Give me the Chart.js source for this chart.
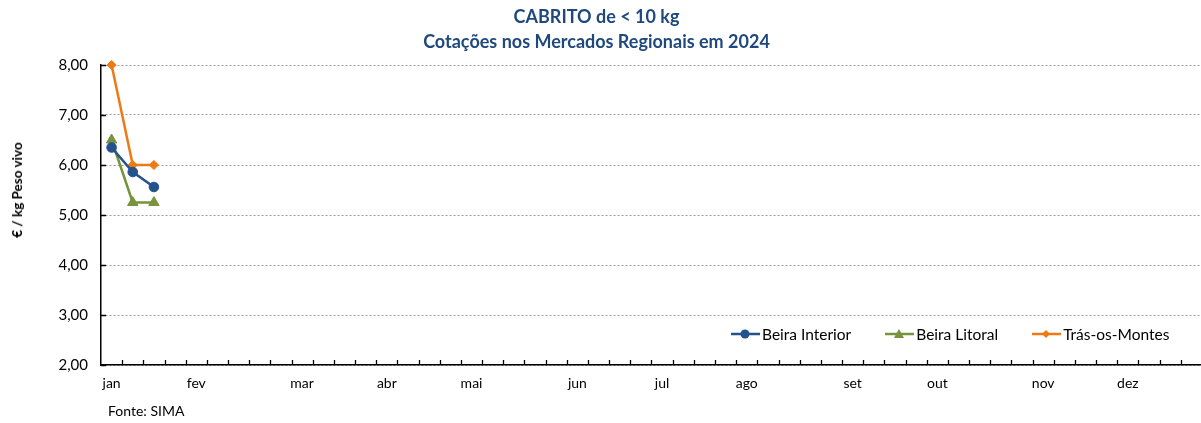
<!DOCTYPE html>
<html lang="pt">
<head>
<meta charset="utf-8">
<title>CABRITO de &lt; 10 kg</title>
<script src="https://cdn.jsdelivr.net/npm/chart.js@4.4.1/dist/chart.umd.min.js"></script>
<style>
  html, body { margin: 0; padding: 0; background: #fff; }
  #wrap { position: relative; width: 1201px; height: 423px; overflow: hidden; font-family: Lato, "Open Sans", sans-serif; }
  #title {
    position: absolute; left: 396px; width: 401px; top: 4px;
    text-align: center; color: #1F497D; font-weight: bold; font-size: 18px; line-height: 25px;
  }
  #yTitle {
    position: absolute; left: 17px; top: 190px;
    transform: translate(-50%, -50%) rotate(-90deg);
    font-size: 13.5px; font-weight: bold; color: #000; white-space: nowrap;
  }
  #legend {
    position: absolute; left: 731px; top: 325px; width: 480px;
    display: flex; font-size: 15.5px; color: #000; white-space: nowrap;
  }
  .item { display: flex; align-items: center; margin-right: 34px; flex-shrink: 0; }
  .item svg { margin-right: 2px; flex-shrink: 0; }
  #fonte { position: absolute; left: 108px; top: 402px; font-size: 14px; color: #000; }
</style>
</head>
<body>
<div id="wrap">
  <canvas id="chart" width="1209" height="423"></canvas>
  <div id="title">CABRITO de &lt; 10 kg<br>Cotações nos Mercados Regionais em 2024</div>
  <div id="yTitle">€ / kg Peso vivo</div>
  <div id="legend"></div>
  <div id="fonte">Fonte: SIMA</div>
</div>
<script>
// dados (semanas de 2024)
const monthNames = ['jan', 'fev', 'mar', 'abr', 'mai', 'jun', 'jul', 'ago', 'set', 'out', 'nov', 'dez'];
const monthWeek = [0, 4, 9, 13, 17, 22, 26, 30, 35, 39, 44, 48];
const weekCount = 52;

const beiraInterior = [6.35, 5.86, 5.56];
const beiraLitoral = [6.50, 5.25, 5.25];
const trasOsMontes = [8.00, 6.00, 6.00];

const yTicks = [2, 3, 4, 5, 6, 7, 8];

const weekLabels = [];
for (let i = 0; i < weekCount; i++) {
    const m = monthWeek.indexOf(i);
    weekLabels.push(m >= 0 ? monthNames[m] : '');
}

const series = [
    { label: 'Beira Interior', data: beiraInterior, color: '#24528C', marker: 'circle', radius: 4.8 },
    { label: 'Beira Litoral', data: beiraLitoral, color: '#77933C', marker: 'triangle', radius: 6 },
    { label: 'Trás-os-Montes', data: trasOsMontes, color: '#EE7A16', marker: 'rectRot', radius: 4.6 }
];

// marcas de escala para dentro, como no original
const innerTicks = {
    id: 'innerTicks',
    afterDraw(chart) {
        const { ctx, scales: { x, y } } = chart;
        ctx.save();
        ctx.strokeStyle = '#000';
        ctx.lineWidth = 1.3;
        ctx.beginPath();
        const step = x.getPixelForValue(1) - x.getPixelForValue(0);
        const x0 = x.getPixelForValue(0) - step / 2;
        for (let i = 1; i <= weekCount; i++) {
            const px = Math.round(x0 + i * step) + 0.5;
            ctx.moveTo(px, x.top);
            ctx.lineTo(px, x.top - 5);
        }
        yTicks.forEach(v => {
            const py = Math.round(y.getPixelForValue(v)) + 0.5;
            ctx.moveTo(y.right, py);
            ctx.lineTo(y.right + 5, py);
        });
        ctx.stroke();
        ctx.restore();
    }
};

new Chart(document.getElementById('chart'), {
    type: 'line',
    data: {
        labels: weekLabels,
        datasets: series.map(s => ({
            label: s.label,
            data: s.data,
            borderColor: s.color,
            backgroundColor: s.color,
            borderWidth: 2.5,
            pointStyle: s.marker,
            pointRadius: s.radius,
            pointBorderWidth: 1,
            tension: 0,
            clip: false
        }))
    },
    options: {
        responsive: false,
        animation: false,
        layout: { padding: { top: 65, left: 0, right: 1, bottom: 28 } },
        plugins: {
            legend: { display: false },
            tooltip: { enabled: false }
        },
        scales: {
            x: {
                offset: true,
                grid: { display: false, drawTicks: false },
                border: { display: true, color: '#000', width: 1.5 },
                ticks: {
                    autoSkip: false, maxRotation: 0, padding: 10,
                    color: '#000', font: { family: 'Lato', size: 14 }
                },
                afterFit(scale) { scale.height = 30; }
            },
            y: {
                min: 2, max: 8,
                grid: { color: '#9A9A9A', lineWidth: 1, drawTicks: false },
                border: { display: true, color: '#000', width: 1.5, dash: [2, 2] },
                ticks: {
                    stepSize: 1, padding: 13, color: '#000',
                    font: { family: 'Lato', size: 15 },
                    callback: v => v.toFixed(2).replace('.', ',')
                },
                afterFit(scale) { scale.width = 101; }
            }
        }
    },
    plugins: [innerTicks]
});

// legenda em HTML, dentro da área do gráfico
const legend = document.getElementById('legend');
series.forEach(s => {
    let mark;
    if (s.marker === 'circle') {
        mark = `<circle cx="14" cy="6" r="4.5" fill="${s.color}"/>`;
    } else if (s.marker === 'triangle') {
        mark = `<polygon points="14,1 19,10 9,10" fill="${s.color}"/>`;
    } else {
        mark = `<polygon points="14,2 18,6 14,10 10,6" fill="${s.color}"/>`;
    }
    const item = document.createElement('div');
    item.className = 'item';
    item.innerHTML = `<svg width="29" height="12"><line x1="0" y1="6" x2="29" y2="6" stroke="${s.color}" stroke-width="2.5"/>${mark}</svg><span>${s.label}</span>`;
    legend.appendChild(item);
});
</script>
</body>
</html>
